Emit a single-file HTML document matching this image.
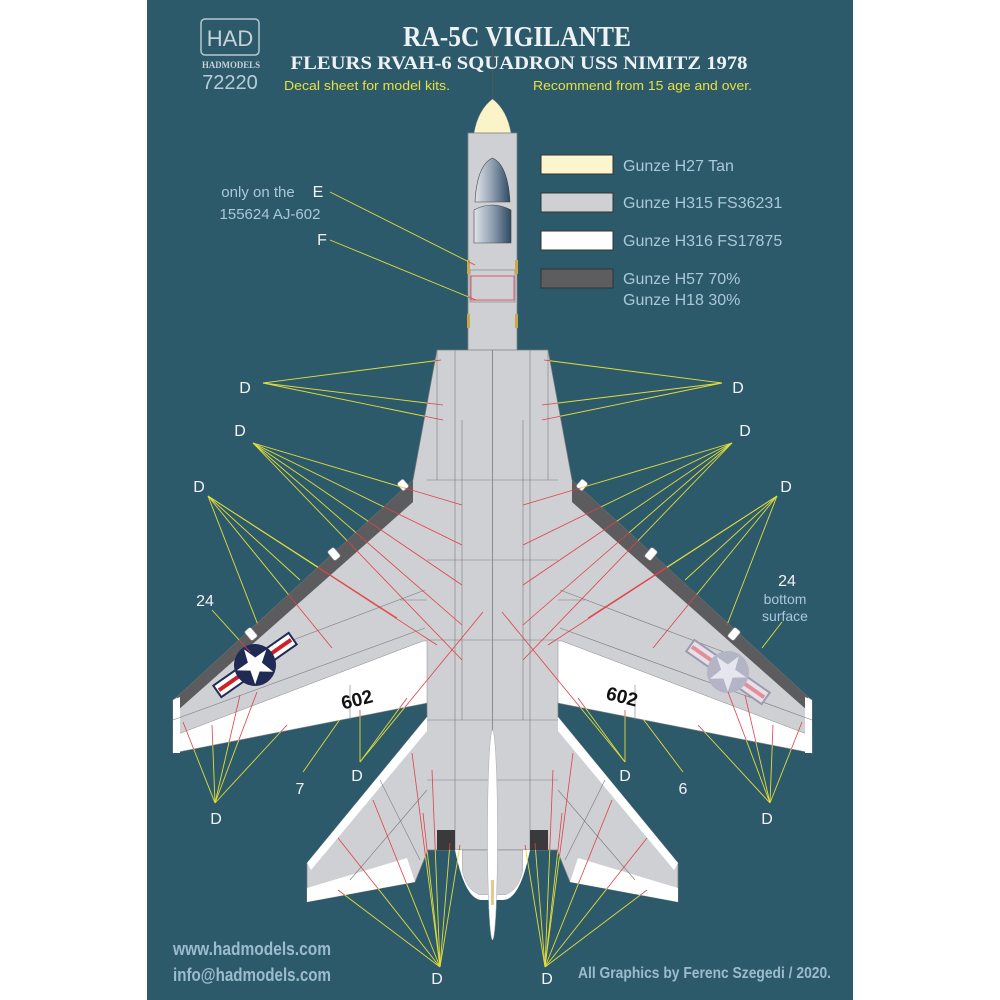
<!DOCTYPE html>
<html><head><meta charset="utf-8"><style>
html,body{margin:0;padding:0;background:#fff;}
svg{display:block;}
text{font-family:"Liberation Sans",sans-serif;}
.d{fill:#f2f2f2;font-size:16px;}
.cond{font-family:"Liberation Sans Narrow","Liberation Sans",sans-serif;font-weight:bold;}
</style></head><body>
<svg width="1000" height="1000" viewBox="0 0 1000 1000" xmlns="http://www.w3.org/2000/svg">
<defs>
<path id="half" d="M492.5,133 L468,133 L468,350 L437,350 L413,480 L177,697 L173,700 L173,753 L427,703 L427,717 L307,863 L307,902 L415,882 L428,850 L492.5,850 Z"/>
<clipPath id="planeClip"><use href="#half"/><use href="#half" transform="translate(985,0) scale(-1,1)"/></clipPath>
<mask id="outMask"><rect x="0" y="0" width="1000" height="1000" fill="#fff"/><use href="#half" fill="#000"/><use href="#half" fill="#000" transform="translate(985,0) scale(-1,1)"/></mask>
<g id="leftPlane">
  <use href="#half" fill="#cfd0d4" stroke="#7a7c80" stroke-width="0.7"/>
  <polygon points="413,480 177,697 177,711 413,502" fill="#5c5c5e"/>
  <polygon points="173,736 423,641 427,641 427,703 173,753" fill="#ffffff" stroke="#8a8a8a" stroke-width="0.5"/>
  <polygon points="427,717 307,863 311,870 427,731" fill="#ffffff"/>
  <polygon points="307,888 407,858 415,882 307,902" fill="#ffffff"/>
  <polygon points="173,700 180,697 180,753 173,753" fill="#ffffff"/>
  <g stroke="#7a7c80" stroke-width="0.6" fill="none">
    <line x1="455" y1="350" x2="455" y2="850"/><line x1="462" y1="420" x2="462" y2="720"/>
    <line x1="437" y1="350" x2="437" y2="480"/><line x1="427" y1="480" x2="492" y2="480"/>
    <line x1="427" y1="560" x2="492" y2="560"/><line x1="427" y1="640" x2="492" y2="640"/>
    <line x1="427" y1="720" x2="492" y2="720"/><line x1="427" y1="780" x2="492" y2="780"/>
    <line x1="173" y1="720" x2="425" y2="628"/><line x1="400" y1="600" x2="427" y2="600"/>
    <line x1="240" y1="660" x2="425" y2="590"/><line x1="350" y1="685" x2="350" y2="720"/>
    <line x1="427" y1="790" x2="350" y2="880"/><line x1="380" y1="780" x2="420" y2="860"/>
    <line x1="468" y1="245" x2="492" y2="245"/><line x1="468" y1="320" x2="492" y2="320"/>
  </g>
  <path d="M437,830 L455,830 L455,850 L437,850 Z" fill="#3a3a3c"/>
  <path d="M462,850 L462,870 Q466,890 480,895 L492.5,895 L492.5,850 Z" fill="#cfd0d4" stroke="#7a7c80" stroke-width="0.5"/>
  <path d="M455,850 Q465,900 482,900 L492.5,900 L492.5,895 L480,895 Q466,890 462,870 L462,850 Z" fill="#fff"/>
  <g fill="#cfd0d4" stroke="#888" stroke-width="0.6">
    <rect x="247" y="628" width="8" height="12" rx="2" fill="#fff" transform="rotate(-40 251 634)"/>
    <rect x="330" y="548" width="8" height="12" rx="2" fill="#fff" transform="rotate(-40 334 554)"/>
    <rect x="399" y="480" width="8" height="10" rx="2" fill="#fff" transform="rotate(-40 403 485)"/>
  </g>
</g>
<g id="leftLines">
  <g id="lineSet">
    <line x1="263" y1="383" x2="441" y2="360"/><line x1="263" y1="383" x2="443" y2="405"/><line x1="263" y1="383" x2="443" y2="420"/>
    <line x1="253" y1="443" x2="462" y2="505"/><line x1="253" y1="443" x2="462" y2="545"/><line x1="253" y1="443" x2="462" y2="585"/><line x1="253" y1="443" x2="462" y2="625"/><line x1="253" y1="443" x2="462" y2="660"/>
    <line x1="208" y1="496" x2="258" y2="625"/><line x1="208" y1="496" x2="332" y2="648"/><line x1="208" y1="496" x2="397" y2="618"/><line x1="208" y1="496" x2="437" y2="645"/><line x1="208" y1="496" x2="300" y2="580"/>
    <line x1="215" y1="803" x2="183" y2="722"/><line x1="215" y1="803" x2="212" y2="725"/><line x1="215" y1="803" x2="257" y2="692"/><line x1="215" y1="803" x2="287" y2="725"/><line x1="215" y1="803" x2="240" y2="695"/>
    <line x1="360" y1="762" x2="360" y2="710"/><line x1="360" y1="762" x2="407" y2="698"/><line x1="360" y1="762" x2="483" y2="612"/>
    <line x1="440" y1="967" x2="338" y2="838"/><line x1="440" y1="967" x2="373" y2="800"/><line x1="440" y1="967" x2="412" y2="753"/><line x1="440" y1="967" x2="423" y2="813"/><line x1="440" y1="967" x2="432" y2="770"/><line x1="440" y1="967" x2="450" y2="843"/><line x1="440" y1="967" x2="338" y2="890"/><line x1="440" y1="967" x2="460" y2="845"/>
  </g>
</g>
</defs>

<rect x="0" y="0" width="1000" height="1000" fill="#ffffff"/>
<rect x="147" y="0" width="706" height="1000" fill="#2d5a6b"/>

<use href="#leftPlane"/>
<use href="#leftPlane" transform="translate(985,0) scale(-1,1)"/>
<ellipse cx="492.5" cy="835" rx="5" ry="105" fill="#fff" stroke="#aaa" stroke-width="0.5"/>
<rect x="491" y="880" width="3" height="25" fill="#e8c890"/>
<line x1="492.5" y1="40" x2="492.5" y2="100" stroke="#555" stroke-width="1"/>
<path d="M492.5,99 Q478,110 474,133 L511,133 Q507,110 492.5,99 Z" fill="#fbf4c8" stroke="#888" stroke-width="0.5"/>
<rect x="468" y="133" width="49" height="217" fill="#cfd0d4" stroke="#7a7c80" stroke-width="0.7"/>
<linearGradient id="can" x1="0" x2="1"><stop offset="0" stop-color="#e0e4ea"/><stop offset="0.5" stop-color="#8e9eb0"/><stop offset="1" stop-color="#2e4a64"/></linearGradient>
<path d="M475,202 Q477,165 492.5,158 Q508,165 510,202 Z" fill="url(#can)" stroke="#444" stroke-width="0.6"/>
<path d="M474,243 L474,210 Q492,200 511,210 L511,243 Z" fill="url(#can)" stroke="#444" stroke-width="0.6"/>
<rect x="470" y="270" width="45" height="32" fill="none" stroke="#7a7c80" stroke-width="0.6"/>
<rect x="467" y="260" width="3" height="14" fill="#c9a84a"/><rect x="515" y="260" width="3" height="14" fill="#c9a84a"/>
<rect x="467" y="314" width="3" height="14" fill="#c9a84a"/><rect x="515" y="314" width="3" height="14" fill="#c9a84a"/>

<g transform="translate(255,665) rotate(-35)">
  <rect x="-46" y="-7" width="92" height="14" fill="#fff" stroke="#1f2a55" stroke-width="2"/>
  <rect x="-44" y="-2" width="88" height="4" fill="#d0202a"/>
  <circle r="21" fill="#1f2a55"/>
  <polygon points="0,-19 4.5,-6 18,-6 7,2 11,16 0,8 -11,16 -7,2 -18,-6 -4.5,-6" fill="#fff"/>
</g>
<g transform="translate(728,672) rotate(35)">
  <rect x="-46" y="-7" width="92" height="14" fill="#e8e0e6" stroke="#9a9ab0" stroke-width="2"/>
  <rect x="-44" y="-2" width="88" height="4" fill="#e09098"/>
  <circle r="21" fill="#b3b4c6"/>
  <polygon points="0,-19 4.5,-6 18,-6 7,2 11,16 0,8 -11,16 -7,2 -18,-6 -4.5,-6" fill="#e6e6ee"/>
</g>
<text x="357" y="706" font-size="19" font-weight="bold" fill="#111" text-anchor="middle" transform="rotate(-14 357 700)">602</text>
<text x="622" y="703" font-size="19" font-weight="bold" fill="#111" text-anchor="middle" transform="rotate(14 622 697)">602</text>

<g stroke="#e2dc3c" stroke-width="0.9" mask="url(#outMask)">
  <use href="#lineSet"/>
  <use href="#lineSet" transform="translate(985,0) scale(-1,1)"/>
  <line x1="303" y1="772" x2="343" y2="715"/><line x1="683" y1="772" x2="640" y2="715"/>
  <line x1="212" y1="610" x2="250" y2="652"/><line x1="782" y1="622" x2="762" y2="648"/>
  <line x1="330" y1="192" x2="475" y2="265"/><line x1="330" y1="240" x2="476" y2="300"/>
</g>
<g stroke="#e0404a" stroke-width="0.8" clip-path="url(#planeClip)">
  <use href="#lineSet"/>
  <use href="#lineSet" transform="translate(985,0) scale(-1,1)"/>
  <line x1="330" y1="192" x2="475" y2="265"/><line x1="330" y1="240" x2="476" y2="300"/>
  <line x1="212" y1="610" x2="250" y2="652"/>
</g>
<rect x="471" y="276" width="43" height="24" fill="none" stroke="#e0404a" stroke-width="0.8"/>

<text class="d" x="245" y="393" text-anchor="middle">D</text>
<text class="d" x="738" y="393" text-anchor="middle">D</text>
<text class="d" x="240" y="436" text-anchor="middle">D</text>
<text class="d" x="745" y="436" text-anchor="middle">D</text>
<text class="d" x="199" y="492" text-anchor="middle">D</text>
<text class="d" x="786" y="492" text-anchor="middle">D</text>
<text class="d" x="216" y="824" text-anchor="middle">D</text>
<text class="d" x="767" y="824" text-anchor="middle">D</text>
<text class="d" x="357" y="781" text-anchor="middle">D</text>
<text class="d" x="625" y="781" text-anchor="middle">D</text>
<text class="d" x="437" y="984" text-anchor="middle">D</text>
<text class="d" x="547" y="984" text-anchor="middle">D</text>
<text class="d" x="205" y="606" text-anchor="middle">24</text>
<text class="d" x="787" y="586" text-anchor="middle">24</text>
<text x="785" y="604" font-size="14" fill="#a9c9d8" text-anchor="middle">bottom</text>
<text x="785" y="621" font-size="14" fill="#a9c9d8" text-anchor="middle">surface</text>
<text class="d" x="300" y="794" text-anchor="middle">7</text>
<text class="d" x="683" y="794" text-anchor="middle">6</text>
<text class="d" x="318" y="197" text-anchor="middle" font-size="15">E</text>
<text class="d" x="322" y="245" text-anchor="middle" font-size="15">F</text>
<text x="258" y="197" font-size="15" fill="#a9c9d8" text-anchor="middle">only on the</text>
<text x="270" y="219" font-size="15" fill="#a9c9d8" text-anchor="middle">155624 AJ-602</text>

<rect x="201" y="19" width="58" height="36" rx="4" fill="none" stroke="#b8c8d0" stroke-width="1.5"/>
<text x="230" y="46" font-size="22" fill="#c6d2d8" text-anchor="middle">HAD</text>
<text x="231" y="68" font-size="9" font-weight="bold" fill="#c6d2d8" text-anchor="middle" style="font-family:'Liberation Serif',serif" textLength="58" lengthAdjust="spacingAndGlyphs">HADMODELS</text>
<text x="230" y="89" font-size="20" fill="#b8ccd6" text-anchor="middle">72220</text>
<text x="517" y="46" font-size="28" font-weight="bold" fill="#eef2f3" text-anchor="middle" style="font-family:'Liberation Serif',serif" textLength="228" lengthAdjust="spacingAndGlyphs">RA-5C VIGILANTE</text>
<text x="519" y="69" font-size="19" font-weight="bold" fill="#eef2f3" text-anchor="middle" style="font-family:'Liberation Serif',serif" textLength="457" lengthAdjust="spacingAndGlyphs">FLEURS RVAH-6 SQUADRON USS NIMITZ 1978</text>
<text x="284" y="90" font-size="13" fill="#e6e040" textLength="166" lengthAdjust="spacingAndGlyphs">Decal sheet for model kits.</text>
<text x="533" y="90" font-size="13" fill="#e6e040" textLength="219" lengthAdjust="spacingAndGlyphs">Recommend from 15 age and over.</text>

<rect x="541" y="155" width="72" height="19" fill="#fcf6cf" stroke="#333" stroke-width="1"/>
<rect x="541" y="193" width="72" height="19" fill="#cfd0d4" stroke="#333" stroke-width="1"/>
<rect x="541" y="231" width="72" height="19" fill="#ffffff" stroke="#333" stroke-width="1"/>
<rect x="541" y="269" width="72" height="19" fill="#5d5d5f" stroke="#333" stroke-width="1"/>
<g font-size="16" fill="#a9c9d8">
<text x="623" y="171">Gunze H27 Tan</text>
<text x="623" y="208">Gunze H315 FS36231</text>
<text x="623" y="246">Gunze H316 FS17875</text>
<text x="623" y="284">Gunze H57 70%</text>
<text x="623" y="305">Gunze H18 30%</text>
</g>

<text class="cond" x="173" y="955" font-size="18" fill="#9bbccd" textLength="158" lengthAdjust="spacingAndGlyphs">www.hadmodels.com</text>
<text class="cond" x="173" y="981" font-size="18" fill="#9bbccd" textLength="158" lengthAdjust="spacingAndGlyphs">info@hadmodels.com</text>
<text class="cond" x="578" y="978" font-size="16" fill="#9bbccd" textLength="253" lengthAdjust="spacingAndGlyphs">All Graphics by Ferenc Szegedi / 2020.</text>
</svg>
</body></html>
